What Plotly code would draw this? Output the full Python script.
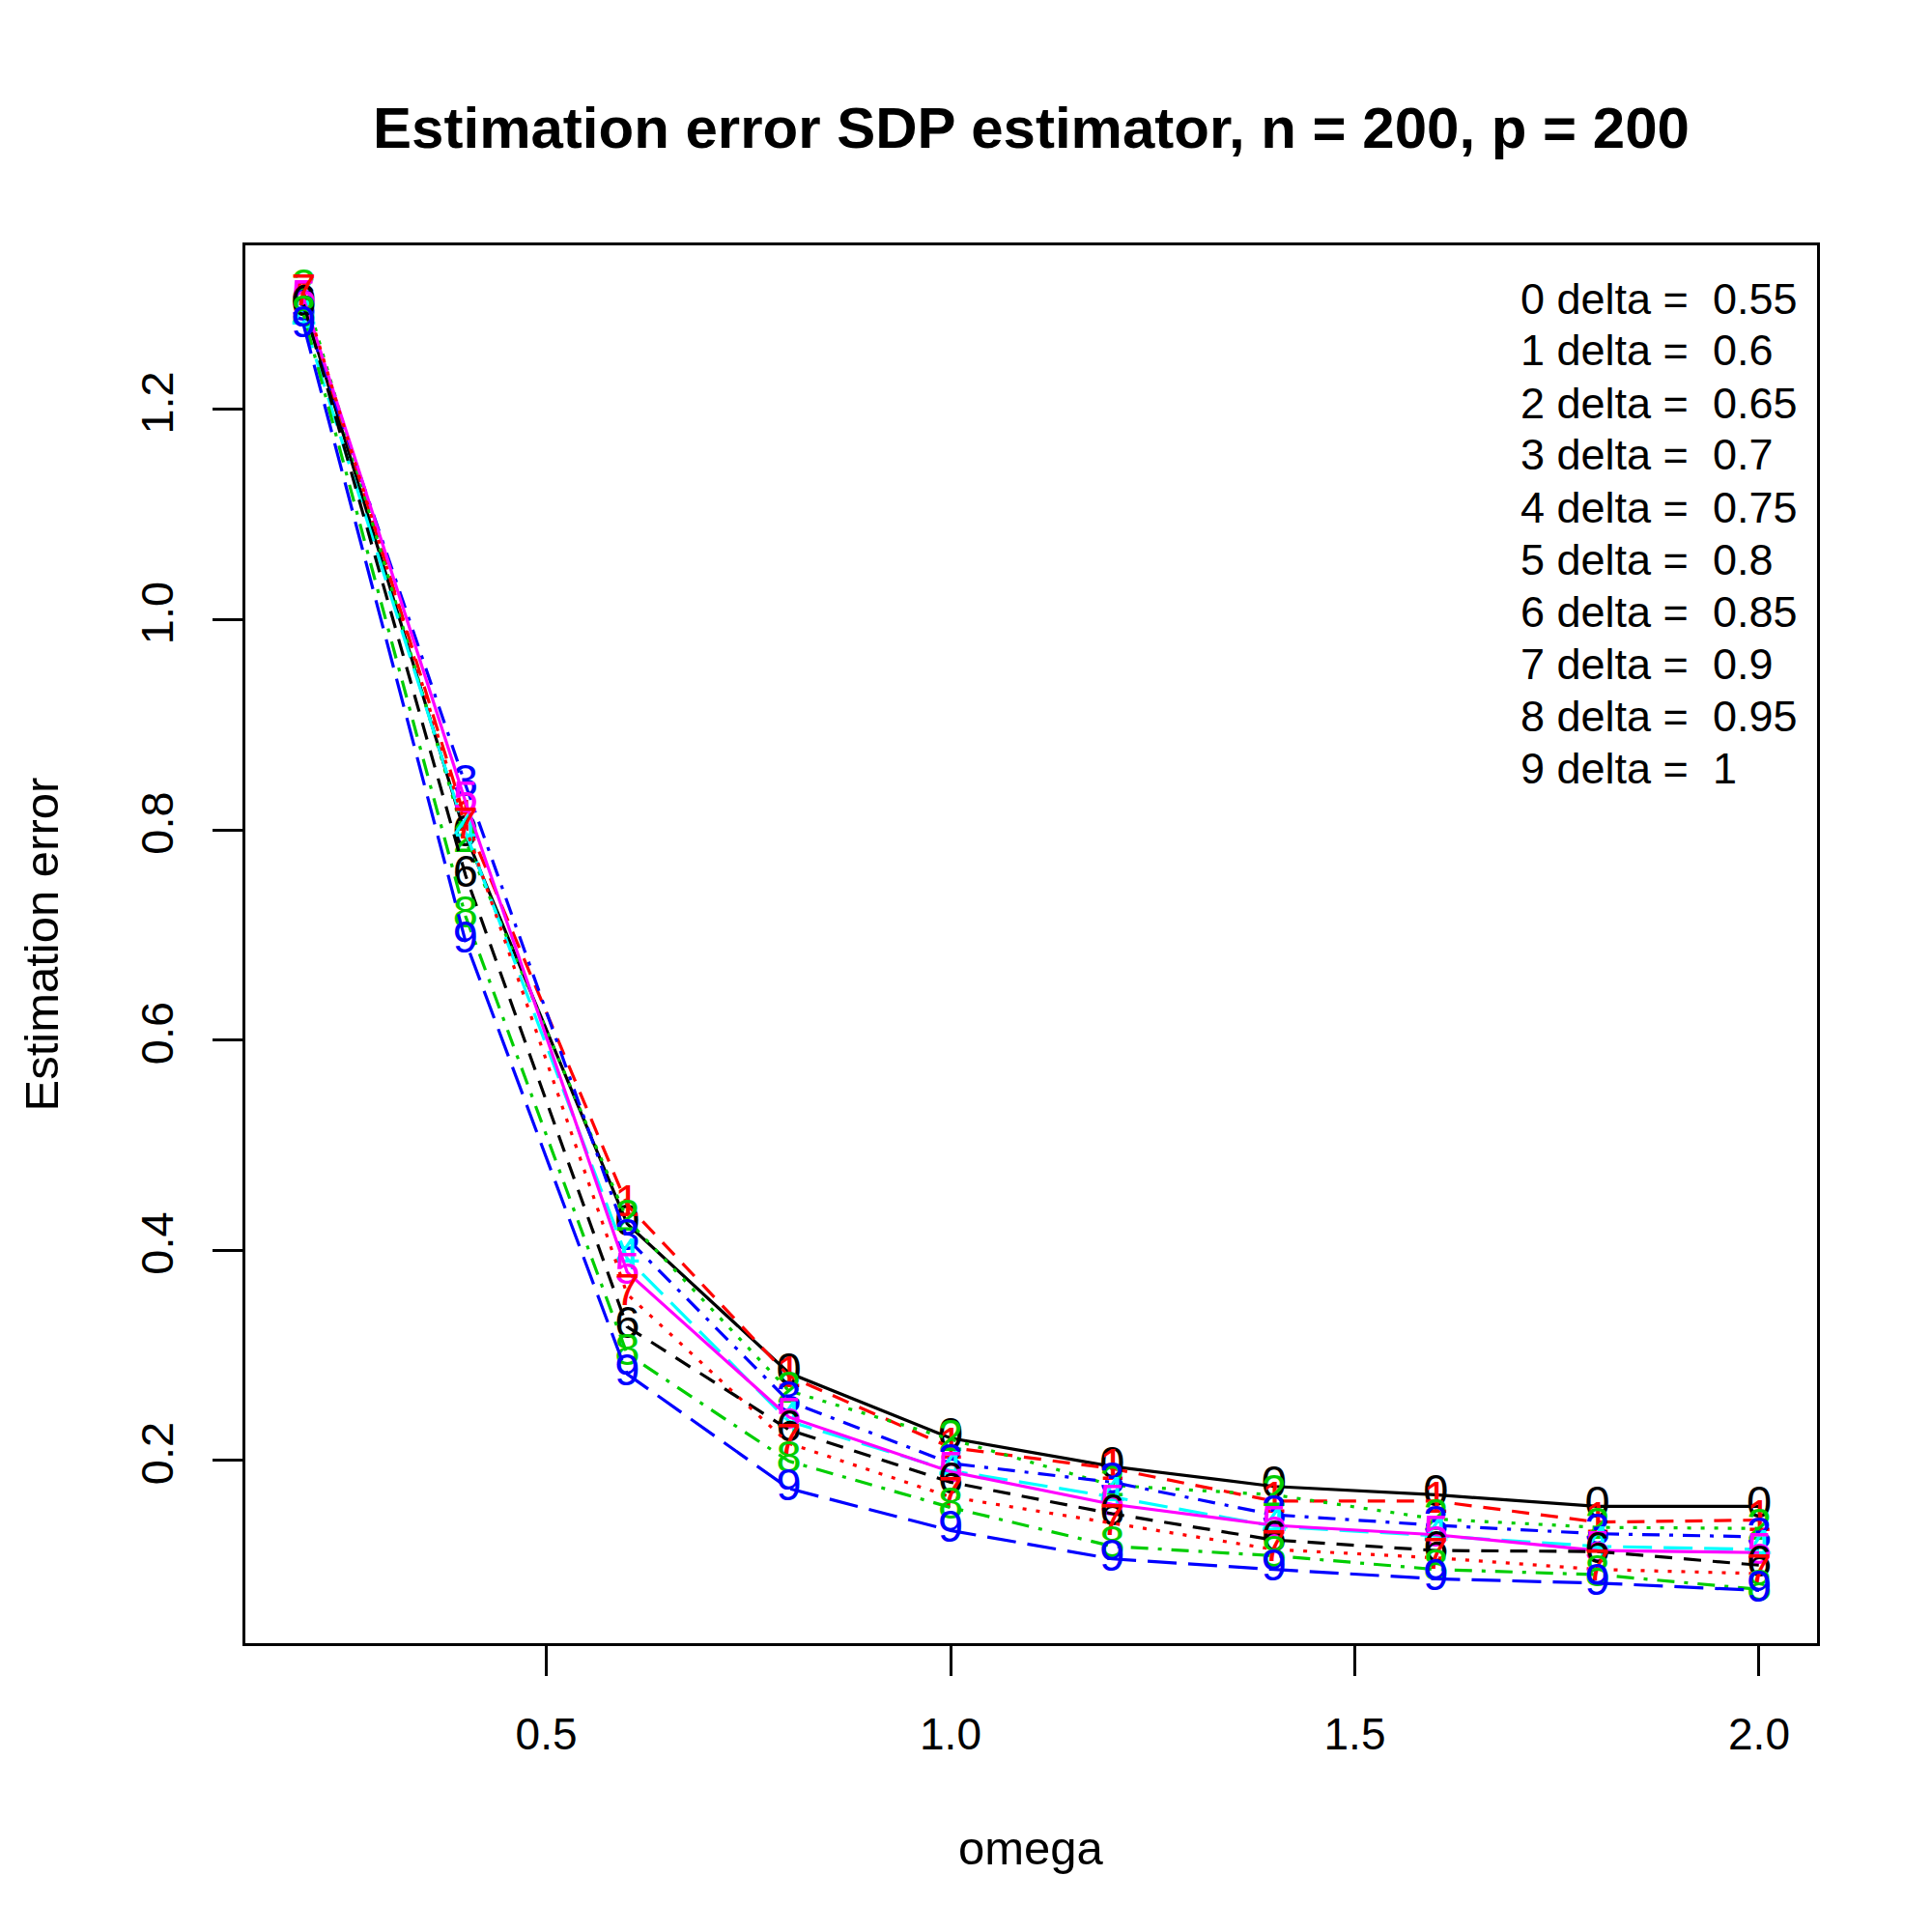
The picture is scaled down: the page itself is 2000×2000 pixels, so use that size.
import plotly.graph_objects as go

# omega grid and estimation error, one list per delta
omega = [0.2, 0.4, 0.6, 0.8, 1.0, 1.2, 1.4, 1.6, 1.8, 2.0]
deltas = [0.55, 0.6, 0.65, 0.7, 0.75, 0.8, 0.85, 0.9, 0.95, 1]

err_d055 = [1.300, 0.795, 0.425, 0.283, 0.221, 0.194, 0.175, 0.167, 0.156, 0.156]
err_d060 = [1.305, 0.810, 0.443, 0.280, 0.212, 0.192, 0.161, 0.161, 0.141, 0.143]
err_d065 = [1.315, 0.790, 0.429, 0.266, 0.220, 0.176, 0.167, 0.144, 0.136, 0.135]
err_d070 = [1.295, 0.843, 0.411, 0.256, 0.197, 0.179, 0.148, 0.138, 0.130, 0.127]
err_d075 = [1.285, 0.798, 0.392, 0.237, 0.190, 0.165, 0.137, 0.128, 0.118, 0.115]
err_d080 = [1.305, 0.827, 0.379, 0.241, 0.189, 0.158, 0.138, 0.129, 0.114, 0.112]
err_d085 = [1.300, 0.757, 0.327, 0.229, 0.179, 0.149, 0.124, 0.114, 0.113, 0.100]
err_d090 = [1.310, 0.803, 0.358, 0.216, 0.165, 0.140, 0.115, 0.107, 0.096, 0.092]
err_d095 = [1.290, 0.718, 0.301, 0.199, 0.155, 0.118, 0.109, 0.096, 0.091, 0.077]
err_d100 = [1.280, 0.694, 0.282, 0.173, 0.133, 0.106, 0.096, 0.087, 0.083, 0.076]

errors = [err_d055, err_d060, err_d065, err_d070, err_d075,
          err_d080, err_d085, err_d090, err_d095, err_d100]

# R default palette / lty cycling as in matplot
COLORS = ["#000000", "#FF0000", "#00CD00", "#0000FF", "#00FFFF", "#FF00FF"]
DASHES = ["solid", "18px,12px", "4px,10px", "4px,10px,18px,10px", "30px,12px"]

FONT = "Liberation Sans, Arial, Helvetica, sans-serif"
W, H = 2000, 2000
L, R, T, B = 246, 127, 246, 307


def px_x(px):
    return (px - L) / (W - L - R)


def px_y(py):
    return (H - B - py) / (H - T - B)


fig = go.Figure()

for i, ys in enumerate(errors):
    col = COLORS[i % len(COLORS)]
    fig.add_trace(go.Scatter(
        x=omega, y=ys,
        mode="lines+text",
        text=[str(i)] * len(omega),
        textposition="middle center",
        textfont=dict(family=FONT, size=47, color=col),
        line=dict(color=col, width=3.2, dash=DASHES[i % len(DASHES)]),
        showlegend=False,
        hoverinfo="skip",
    ))

annotations = []
for i, d in enumerate(deltas):
    annotations.append(dict(
        text=f"{i} delta = \u00a0{d:g}",
        xref="paper", yref="paper",
        x=px_x(1564), y=px_y(301 + 54 * i),
        xanchor="left", yanchor="middle",
        showarrow=False,
        font=dict(family=FONT, size=45, color="black"),
    ))

annotations.append(dict(
    text="omega", xref="paper", yref="paper",
    x=0.5, y=px_y(1905), xanchor="center", yanchor="middle",
    showarrow=False, font=dict(family=FONT, size=49, color="black"),
))
annotations.append(dict(
    text="Estimation error", xref="paper", yref="paper",
    x=px_x(34), y=0.5, xanchor="center", yanchor="middle", textangle=-90,
    showarrow=False, font=dict(family=FONT, size=49, color="black"),
))

fig.update_layout(
    width=W, height=H,
    template="simple_white",
    paper_bgcolor="white", plot_bgcolor="white",
    margin=dict(l=L, r=R, t=T, b=B),
    title=dict(
        text="<b>Estimation error SDP estimator, n = 200, p = 200</b>",
        x=0.5, xref="paper", xanchor="center",
        y=1 - 124 / H, yref="container", yanchor="middle",
        font=dict(family=FONT, size=60, color="black"),
    ),
    annotations=annotations,
)

fig.update_xaxes(
    range=[0.1278, 2.0717],
    tickvals=[0.5, 1.0, 1.5, 2.0], tickformat=".1f",
    ticks="outside", ticklen=31, tickwidth=2.6, tickcolor="black",
    ticklabelstandoff=21,
    tickfont=dict(family=FONT, size=46, color="black"),
    showline=True, linecolor="black", linewidth=2.6, mirror=True,
    showgrid=False, zeroline=False,
)
fig.update_yaxes(
    range=[0.0258, 1.3563],
    tickvals=[0.2, 0.4, 0.6, 0.8, 1.0, 1.2], tickformat=".1f",
    tickangle=-90,
    ticks="outside", ticklen=31, tickwidth=2.6, tickcolor="black",
    ticklabelstandoff=22,
    tickfont=dict(family=FONT, size=47, color="black"),
    showline=True, linecolor="black", linewidth=2.6, mirror=True,
    showgrid=False, zeroline=False,
)

fig.write_html("out.html")
